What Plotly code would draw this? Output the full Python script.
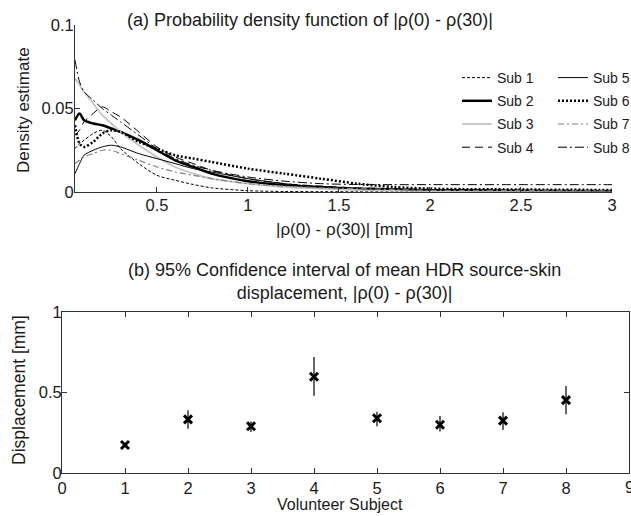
import plotly.graph_objects as go

# ---- data (a): kernel density estimates, |rho(0) - rho(30)| ----
x_grid = [0.05, 0.075, 0.1, 0.15, 0.2, 0.25, 0.3, 0.4, 0.5, 0.6, 0.7, 0.8, 1.0, 1.2, 1.4, 1.6, 1.8, 2.0, 2.5, 3.0]
sub1 = [0.026, 0.029, 0.031, 0.035, 0.037, 0.033, 0.026, 0.017, 0.010, 0.007, 0.0045, 0.0025, 0.0008, 0.0003, 0.0002, 0.0001, 0.0001, 0.0001, 0.0001, 0.0001]
sub2 = [0.043, 0.047, 0.043, 0.041, 0.040, 0.038, 0.036, 0.031, 0.025, 0.019, 0.015, 0.011, 0.0065, 0.004, 0.003, 0.002, 0.0015, 0.001, 0.0008, 0.0005]
sub3 = [0.068, 0.064, 0.060, 0.053, 0.046, 0.041, 0.036, 0.028, 0.021, 0.015, 0.011, 0.008, 0.005, 0.003, 0.002, 0.0012, 0.0008, 0.0006, 0.0004, 0.0003]
sub4 = [0.034, 0.037, 0.042, 0.047, 0.051, 0.048, 0.045, 0.036, 0.027, 0.021, 0.017, 0.013, 0.008, 0.005, 0.0035, 0.0025, 0.002, 0.0015, 0.001, 0.001]
sub5 = [0.011, 0.017, 0.022, 0.025, 0.027, 0.028, 0.027, 0.023, 0.020, 0.017, 0.014, 0.012, 0.008, 0.005, 0.003, 0.002, 0.0015, 0.001, 0.0008, 0.0006]
sub6 = [0.040, 0.029, 0.027, 0.030, 0.035, 0.037, 0.036, 0.030, 0.026, 0.022, 0.020, 0.018, 0.014, 0.011, 0.008, 0.005, 0.003, 0.002, 0.0015, 0.0012]
sub7 = [0.017, 0.019, 0.021, 0.023, 0.025, 0.025, 0.023, 0.019, 0.015, 0.012, 0.010, 0.008, 0.005, 0.0035, 0.0025, 0.002, 0.0015, 0.001, 0.0008, 0.0006]
sub8 = [0.079, 0.066, 0.060, 0.055, 0.050, 0.046, 0.042, 0.034, 0.026, 0.020, 0.016, 0.013, 0.009, 0.0065, 0.005, 0.0045, 0.0044, 0.0044, 0.0044, 0.0044]
series_names = ["Sub 1", "Sub 2", "Sub 3", "Sub 4", "Sub 5", "Sub 6", "Sub 7", "Sub 8"]

# ---- data (b): 95% confidence intervals of mean displacement ----
subjects = [1, 2, 3, 4, 5, 6, 7, 8]
mean_disp = [0.174, 0.333, 0.29, 0.598, 0.34, 0.30, 0.325, 0.453]
ci_low = [0.160, 0.275, 0.255, 0.48, 0.29, 0.257, 0.267, 0.365]
ci_high = [0.188, 0.39, 0.32, 0.72, 0.38, 0.354, 0.377, 0.54]
x2_ticks = [0, 1, 2, 3, 4, 5, 6, 7, 8, 9]
x2_last_tick = 9

W, H = 631, 516
FONT = "Liberation Sans, Arial, sans-serif"
TXT = "#1a1a1a"
AX = "#333333"


def px_x(p):
    return p / W


def px_y(p):
    return 1 - p / H


fig = go.Figure()

styles = [
    dict(color="black", width=1, dash="3px,2px"),
    dict(color="black", width=2.5, dash="solid"),
    dict(color="#c4c4c4", width=1.8, dash="solid"),
    dict(color="black", width=1, dash="8px,5px"),
    dict(color="black", width=1, dash="solid"),
    dict(color="black", width=2.5, dash="2px,2px"),
    dict(color="#808080", width=1.2, dash="6px,3px,2px,3px"),
    dict(color="black", width=1, dash="9px,3px,2px,3px"),
]
all_series = [sub1, sub2, sub3, sub4, sub5, sub6, sub7, sub8]
for i, (name, ys) in enumerate(zip(series_names, all_series)):
    fig.add_trace(go.Scatter(
        x=x_grid, y=ys, mode="lines", name=name,
        line=dict(shape="spline", smoothing=0.8, **styles[i]),
        xaxis="x", yaxis="y", legend="legend" if i < 4 else "legend2",
        legendgroup=name,
    ))

errs_plus = [h - m for h, m in zip(ci_high, mean_disp)]
errs_minus = [m - l for m, l in zip(mean_disp, ci_low)]
fig.add_trace(go.Scatter(
    x=subjects, y=mean_disp, mode="markers", showlegend=False,
    marker=dict(symbol="x-thin-open", size=8, color="black", line=dict(color="black", width=3)),
    error_y=dict(type="data", symmetric=False, array=errs_plus, arrayminus=errs_minus,
                 color="black", thickness=1.2, width=0),
    xaxis="x2", yaxis="y2",
))

tick_font = dict(family=FONT, size=16.5, color=TXT)
axis_common = dict(showgrid=False, zeroline=False, linecolor=AX, linewidth=1,
                   ticks="inside", ticklen=5, tickcolor=AX, tickfont=tick_font, showline=True,
                   automargin=False)


def label(text, x, y, size, angle=0):
    return dict(text=text, x=px_x(x), y=px_y(y), xref="paper", yref="paper", showarrow=False,
                xanchor="center", yanchor="middle", textangle=angle,
                font=dict(family=FONT, size=size, color=TXT))


fig.update_layout(
    width=W, height=H, margin=dict(l=0, r=0, t=0, b=0, autoexpand=False),
    paper_bgcolor="white", plot_bgcolor="white",
    font=dict(family=FONT, size=16, color=TXT),
    xaxis=dict(domain=[px_x(75), px_x(612)], range=[0.05, 3], tickvals=[0.5, 1, 1.5, 2, 2.5, 3],
               ticktext=["0.5", "1", "1.5", "2", "2.5", "3"], anchor="y", ticklabelstandoff=-2,
               **axis_common),
    yaxis=dict(domain=[px_y(192), px_y(25)], range=[0, 0.1], tickvals=[0, 0.05, 0.1],
               ticktext=["0", "0.05", "0.1"], anchor="x", ticklabelstandoff=-3, **axis_common),
    xaxis2=dict(domain=[px_x(62), px_x(629)], range=[0, 9], tickvals=x2_ticks[:-1],
                mirror="ticks", anchor="y2", ticklabelstandoff=0, **axis_common),
    yaxis2=dict(domain=[px_y(473), px_y(312)], range=[0, 1], tickvals=[0, 0.5, 1],
                ticktext=["0", "0.5", "1"], mirror="ticks", anchor="x2", ticklabelstandoff=-4,
                **axis_common),
    legend=dict(x=px_x(457), y=px_y(62), xanchor="left", yanchor="top", bgcolor="rgba(0,0,0,0)",
                font=dict(family=FONT, size=14, color=TXT), tracegroupgap=2, itemwidth=30),
    legend2=dict(x=px_x(553), y=px_y(62), xanchor="left", yanchor="top", bgcolor="rgba(0,0,0,0)",
                 font=dict(family=FONT, size=14, color=TXT), tracegroupgap=2, itemwidth=30),
    annotations=[
        label("(a) Probability density function of |ρ(0) - ρ(30)|", 310, 20, 18),
        label("(b) 95% Confidence interval of mean HDR source-skin<br>displacement, |ρ(0) - ρ(30)|",
              344, 281, 18),
        label("|ρ(0) - ρ(30)| [mm]", 344, 229, 17),
        label("Density estimate", 24, 110, 17, -90),
        label("Volunteer Subject", 340, 504, 16),
        label("Displacement [mm]", 19, 390, 17.5, -90),
        dict(text=str(x2_last_tick), x=x2_last_tick, xref="x2", y=px_y(487), yref="paper",
             showarrow=False, xanchor="center", yanchor="middle",
             font=dict(family=FONT, size=16.5, color=TXT)),
    ],
)

fig.write_html("out.html", config={"displayModeBar": False},
               post_script="document.body.style.margin='0';document.body.style.overflow='hidden';")
